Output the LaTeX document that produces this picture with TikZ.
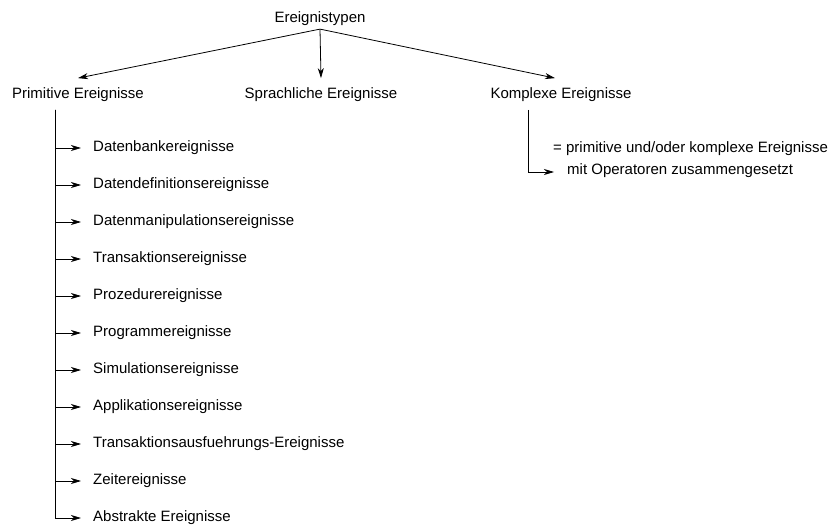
\documentclass[tikz,border=0pt]{standalone}
\usepackage{fontspec}
\setmainfont{Liberation Sans}
\usetikzlibrary{arrows.meta}
\begin{document}
\begin{tikzpicture}[x=1pt,y=-1pt,
  font=\fontsize{15}{18}\selectfont,
  arr/.style={line width=0.8pt,-{Stealth[length=10pt,width=6pt,inset=3pt]}},
  head/.style={anchor=base,inner sep=0pt,outer sep=0pt},
  item/.style={anchor=west,inner xsep=12pt,inner ysep=0pt}]
\useasboundingbox (0,0) rectangle (832,526);

% root and first level
\node[head,outer sep=3pt] (root) at (320,23) {Ereignistypen};
\node[head] (prim) at (78,99) {Primitive Ereignisse};
\node[head] (spr)  at (321,99) {Sprachliche Ereignisse};
\node[head] (kom)  at (561,99) {Komplexe Ereignisse};

\draw[arr] (root.south) -- ([yshift=10pt]prim.north);
\draw[arr] (root.south) -- ([yshift=10pt]spr.north);
\draw[arr] (root.south) -- ([xshift=-6pt,yshift=10pt]kom.north);

% primitive event kinds
\coordinate (trunk) at (55,110);
\foreach \i/\t in {0/Datenbankereignisse,
                   1/Datendefinitionsereignisse,
                   2/Datenmanipulationsereignisse,
                   3/Transaktionsereignisse,
                   4/Prozedurereignisse,
                   5/Programmereignisse,
                   6/Simulationsereignisse,
                   7/Applikationsereignisse,
                   8/Transaktionsausfuehrungs-Ereignisse,
                   9/Zeitereignisse,
                   10/Abstrakte Ereignisse}{
  \node[item] (p\i) at (81,{148+37*\i}) {\t};
  \draw[arr] (trunk) |- (p\i.west);
}

% composite events
\coordinate (ktrunk) at (528,110);
\node[anchor=base west,inner sep=0pt] (kd1) at (553,153) {= primitive und/oder komplexe Ereignisse};
\node[anchor=base west,inner sep=0pt] (kd2) at (567,175) {mit Operatoren zusammengesetzt};
\draw[arr] (ktrunk) |- ([xshift=-13pt,yshift=3pt]kd2.base west);
\end{tikzpicture}
\end{document}
